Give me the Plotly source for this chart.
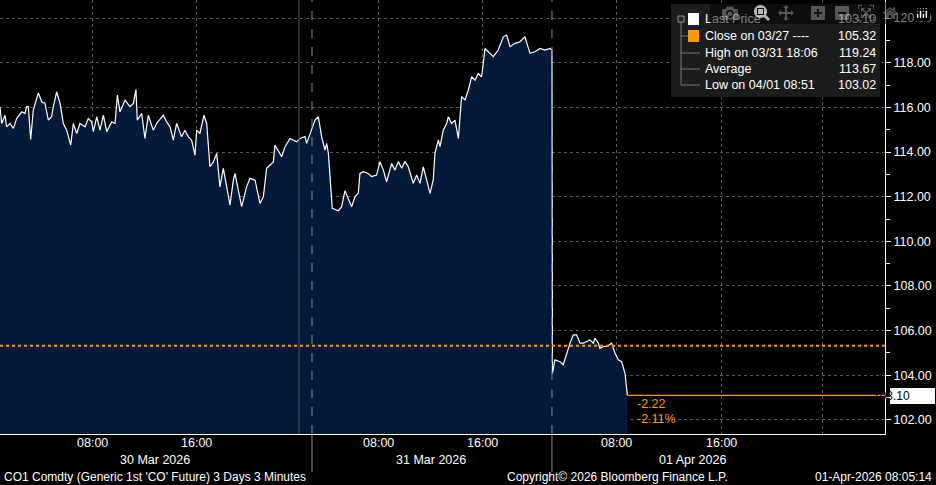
import plotly.graph_objects as go

# Session time in hours from the left edge of the chart (non-trading hours compressed)
t_hours = [0.00,0.13,0.38,0.51,0.77,1.03,1.28,1.67,1.92,2.05,2.18,2.36,2.56,2.82,2.95,3.21,3.46,3.72,3.97,4.10,
           4.36,4.62,4.87,5.13,5.44,5.64,5.90,6.15,6.54,6.79,7.05,7.18,7.44,7.69,7.95,8.21,8.59,8.85,9.03,9.23,
           9.62,10.00,10.26,10.46,10.56,10.90,11.15,11.41,11.79,12.05,12.56,12.82,13.08,13.33,13.59,13.97,14.23,14.49,14.74,15.00,
           15.13,15.38,15.69,15.90,16.15,16.41,16.67,16.92,17.18,17.44,17.69,17.95,18.08,18.33,18.59,18.97,19.23,19.62,20.00,20.26,
           20.51,21.03,21.15,21.67,21.92,22.31,22.56,22.82,23.08,23.46,23.59,23.97,24.23,24.49,24.74,25.00,25.13,25.26,25.56,26.03,
           26.28,26.54,26.79,27.05,27.31,27.56,27.69,27.95,28.33,28.59,28.97,29.23,29.49,29.74,30.13,30.38,30.64,30.90,31.15,31.41,
           31.79,32.05,32.31,32.56,32.82,33.08,33.33,33.46,33.72,33.85,34.10,34.36,34.49,34.74,35.00,35.26,35.51,35.77,36.03,36.28,
           36.54,36.79,37.05,37.31,37.69,37.95,38.33,38.72,38.97,39.23,39.62,40.00,40.38,40.77,41.15,41.54,41.92,42.31,42.46,42.50,
           42.69,43.08,43.33,43.59,43.85,44.10,44.36,44.62,44.87,45.13,45.38,45.64,45.77,46.03,46.15,46.41,46.67,47.05,47.31,47.56,
           47.82,48.08,48.26]
price = [116.03,115.28,115.65,115.13,115.28,115.06,115.50,115.80,115.73,116.03,116.03,114.56,115.88,116.47,116.65,116.25,116.18,115.43,115.58,116.03,
         116.70,116.18,115.28,114.98,114.31,115.28,114.83,115.28,115.13,115.50,115.35,114.91,115.58,114.98,115.65,114.91,115.35,115.28,116.55,115.80,
         116.32,116.03,116.18,116.80,115.43,115.73,114.61,115.65,114.98,115.28,115.65,115.35,115.13,114.53,115.28,114.68,114.98,114.68,114.53,113.86,
         114.98,114.83,115.65,115.28,113.34,113.56,113.94,112.44,113.27,112.44,111.62,112.74,113.04,112.29,111.55,112.44,112.82,112.74,111.70,112.00,
         113.27,113.56,114.31,113.79,114.23,114.61,114.53,114.46,114.61,114.69,114.39,114.98,115.43,115.58,114.69,114.09,114.39,113.94,111.48,111.37,
         111.55,112.27,111.93,111.55,112.00,112.15,113.04,113.12,113.04,112.90,112.97,113.57,113.19,112.67,113.49,113.19,113.57,113.27,113.57,113.34,
         112.60,112.97,112.60,113.34,112.75,112.15,112.75,113.94,114.54,114.24,114.98,115.28,115.58,115.28,115.43,114.61,116.48,116.33,116.78,117.37,
         117.22,117.52,117.37,118.64,118.42,118.27,118.57,119.16,119.24,118.72,118.87,118.94,119.16,118.42,118.49,118.64,118.57,118.64,118.55,104.09,
         104.69,104.61,104.47,104.99,105.44,105.81,105.81,105.44,105.44,105.51,105.58,105.44,105.66,105.44,105.21,105.29,105.29,105.44,104.99,104.69,
         104.61,104.09,103.10]

close_prev = 105.32
last_price = 103.10
x_tick_vals = [7.12, 15.15, 29.15, 37.08, 47.46, 55.54, 63.3]
x_tick_text = ["08:00", "16:00", "08:00", "16:00", "08:00", "16:00", ""]
day_labels = ["30 Mar 2026", "31 Mar 2026", "01 Apr 2026"]
day_centers = [11.9, 33.15, 53.3]
day_breaks = [24.0, 42.46]
y_ticks = [102, 104, 106, 108, 110, 112, 114, 116, 118, 120]
legend_rows = [("Last Price", "103.10"), ("Close on 03/27 ----", "105.32"),
               ("High on 03/31 18:06", "119.24"), ("Average", "113.67"), ("Low on 04/01 08:51", "103.02")]
change_abs, change_pct = "-2.22", "-2.11%"
footer_left = "CO1 Comdty (Generic 1st 'CO' Future) 3 Days 3 Minutes"
footer_mid = "Copyright\u00a9 2026 Bloomberg Finance L.P."
footer_right = "01-Apr-2026 08:05:14"

XMAX = 68.08
YMIN, YMAX = 101.37, 120.81
W, H = 936, 485
L, R, T, B = 0, 51, 0, 51
PH = H - T - B
FONT = "Liberation Sans"

def px_x(p):  # pixel x -> paper
    return (p - L) / (W - L - R)

def px_y(p):  # pixel y -> paper
    return 1 - (p - T) / PH

fig = go.Figure()
fig.add_trace(go.Scatter(x=t_hours, y=price, mode="lines", line=dict(color="white", width=1.2),
                         fill="tozeroy", fillcolor="#03193a", hoverinfo="skip"))

shapes = []
shapes.append(dict(type="line", xref="x", yref="y", x0=0, x1=XMAX, y0=close_prev, y1=close_prev,
                   line=dict(color="#ff9a00", width=2, dash="dot")))
shapes.append(dict(type="line", xref="x", yref="y", x0=t_hours[-1], x1=XMAX + 0.2, y0=last_price, y1=last_price,
                   line=dict(color="#ff9a00", width=1.2)))
shapes.append(dict(type="line", xref="x", yref="paper", x0=23.0, x1=23.0, y0=0, y1=1,
                   line=dict(color="#555555", width=1)))
for b in day_breaks:
    shapes.append(dict(type="line", xref="x", yref="paper", x0=b, x1=b, y0=0, y1=1,
                       line=dict(color="#8a8a8a", width=1, dash="dash")))
    shapes.append(dict(type="line", xref="x", yref="paper", x0=b, x1=b, y0=0, y1=px_y(472),
                       line=dict(color="#8a8a8a", width=1)))
# legend box
shapes.append(dict(type="rect", xref="paper", yref="paper", x0=px_x(671), x1=px_x(880), y0=px_y(97), y1=px_y(4),
                   fillcolor="#1c1c1c", line=dict(color="#1c1c1c", width=0)))
shapes.append(dict(type="line", xref="paper", yref="paper", x0=px_x(681), x1=px_x(681), y0=px_y(22), y1=px_y(85),
                   line=dict(color="#777", width=1)))
for yy in [36, 53, 69, 85]:
    shapes.append(dict(type="line", xref="paper", yref="paper", x0=px_x(681), x1=px_x(700), y0=px_y(yy), y1=px_y(yy),
                       line=dict(color="#777", width=1)))
shapes.append(dict(type="rect", xref="paper", yref="paper", x0=px_x(678), x1=px_x(684), y0=px_y(22), y1=px_y(16),
                   line=dict(color="#999", width=1), fillcolor="#1c1c1c"))
shapes.append(dict(type="rect", xref="paper", yref="paper", x0=px_x(688), x1=px_x(699), y0=px_y(25), y1=px_y(13),
                   line=dict(width=0), fillcolor="white"))
shapes.append(dict(type="rect", xref="paper", yref="paper", x0=px_x(688), x1=px_x(699), y0=px_y(42), y1=px_y(30),
                   line=dict(width=0), fillcolor="#ff9a00"))
# right value box
shapes.append(dict(type="rect", xref="paper", yref="paper", x0=px_x(890), x1=px_x(935), y0=px_y(404), y1=px_y(388),
                   fillcolor="white", line=dict(width=0)))

ann = []
for i, (lab, val) in enumerate(legend_rows):
    yy = [19, 36, 53, 69, 85][i]
    ann.append(dict(xref="paper", yref="paper", x=px_x(703), y=px_y(yy), text=lab, showarrow=False,
                    xanchor="left", yanchor="middle", font=dict(color="white", size=12.5, family=FONT)))
    ann.append(dict(xref="paper", yref="paper", x=px_x(878), y=px_y(yy), text=val, showarrow=False,
                    xanchor="right", yanchor="middle", font=dict(color="white", size=12.5, family=FONT)))
ann.append(dict(xref="paper", yref="paper", x=px_x(912), y=px_y(396), text=f"{last_price:.2f}", showarrow=False,
                yanchor="middle", font=dict(color="black", size=12, family=FONT)))
ann.append(dict(xref="x", yref="paper", x=t_hours[-1] + 0.6, y=px_y(404), text=change_abs, showarrow=False,
                xanchor="left", yanchor="middle", font=dict(color="#ff9a00", size=12.5, family=FONT)))
ann.append(dict(xref="x", yref="paper", x=t_hours[-1] + 0.6, y=px_y(419), text=change_pct, showarrow=False,
                xanchor="left", yanchor="middle", font=dict(color="#ff9a00", size=12.5, family=FONT)))
for xv, xt in zip(x_tick_vals, x_tick_text):
    if xt:
        ann.append(dict(xref="x", yref="paper", x=xv, y=px_y(443), text=xt, showarrow=False,
                        yanchor="middle", font=dict(color="white", size=12.5, family=FONT)))
for c, d in zip(day_centers, day_labels):
    ann.append(dict(xref="x", yref="paper", x=c, y=px_y(460), text=d, showarrow=False,
                    yanchor="middle", font=dict(color="white", size=12.5, family=FONT)))
ann.append(dict(xref="paper", yref="paper", x=px_x(2), y=px_y(477), text=footer_left, showarrow=False,
                xanchor="left", yanchor="middle", font=dict(color="white", size=12, family=FONT)))
ann.append(dict(xref="paper", yref="paper", x=px_x(617), y=px_y(477), text=footer_mid, showarrow=False,
                xanchor="center", yanchor="middle", font=dict(color="white", size=12, family=FONT)))
ann.append(dict(xref="paper", yref="paper", x=px_x(934), y=px_y(477), text=footer_right, showarrow=False,
                xanchor="right", yanchor="middle", font=dict(color="white", size=12, family=FONT)))

fig.update_layout(
    width=W, height=H, margin=dict(l=L, r=R, t=T, b=B),
    paper_bgcolor="black", plot_bgcolor="black", showlegend=False,
    shapes=shapes, annotations=ann,
    xaxis=dict(range=[0, XMAX], tickvals=x_tick_vals, ticktext=x_tick_text, showticklabels=False,
               showgrid=True, gridcolor="#5a5a5a", griddash="dot", gridwidth=1, zeroline=False,
               showline=True, linecolor="white", linewidth=1, ticks=""),
    yaxis=dict(range=[YMIN, YMAX], side="right", tickvals=y_ticks, ticktext=[f"{v:.2f}" for v in y_ticks],
               showgrid=True, gridcolor="#5a5a5a", griddash="dot", zeroline=False,
               showline=True, linecolor="white", linewidth=1, ticks="outside", ticklen=5, tickcolor="white",
               minor=dict(dtick=1, ticks="outside", ticklen=4, tickcolor="white", showgrid=False),
               tickfont=dict(color="white", size=12.5, family=FONT)),
)
fig.write_html("out.html", post_script="document.body.style.margin='0';document.body.style.background='black';")
